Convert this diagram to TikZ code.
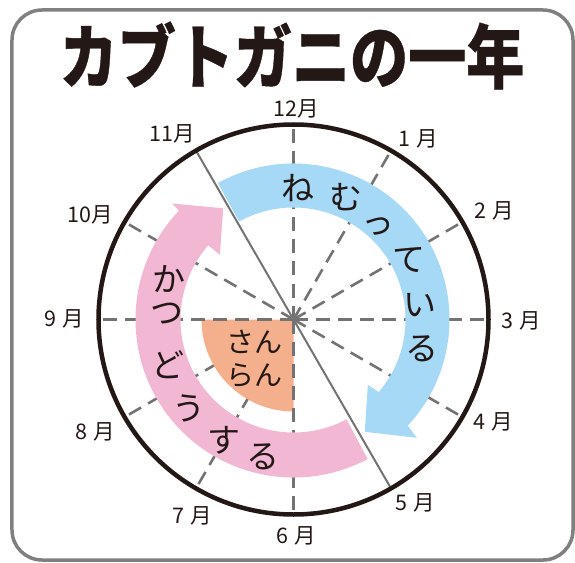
\documentclass[tikz,border=0pt]{standalone}
\usepackage{fontspec}
\newfontfamily\jp{Noto Sans CJK JP}
\newfontfamily\jptitle{Noto Sans CJK JP}[BoldFeatures={FakeBold=0.6}]
\definecolor{ink}{HTML}{231815}
\definecolor{framegray}{HTML}{808080}
\definecolor{linegray}{HTML}{737373}
\definecolor{sleepblue}{HTML}{A5D9F6}
\definecolor{actpink}{HTML}{F2B7D3}
\definecolor{spawnorange}{HTML}{F4B08C}
\tikzset{
  dashline/.style={draw=linegray, line width=2.6pt, dash pattern=on 14pt off 8pt},
  solidline/.style={draw=linegray, line width=2pt},
  monthlbl/.style={font=\jp\fontsize{21.5}{21.5}\selectfont, text=ink, inner sep=0pt},
  bandchar/.style={font=\jp\fontsize{33}{33}\selectfont, text=ink, inner sep=0pt},
}
\begin{document}
\begin{tikzpicture}[x=1pt,y=1pt]
\useasboundingbox (-293.5,-242.5) rectangle (281.5,319.5);
% frame
\draw[framegray, line width=3.5pt, rounded corners=30pt] (-281.5,-240.5) rectangle (279.5,309.5);
% title
\node[font=\jptitle\bfseries\fontsize{70}{70}\selectfont, text=ink, inner sep=0pt, xscale=0.83] (title) at (-1.5,264) {カブトガニの一年};
% dashed month lines
\foreach \a in {0,30,60,90,150,180,210,240,270,330}
  \draw[dashline] (0,0) -- (\a:195);
% spawning sector
\fill[spawnorange] (0,0) -- (180:92) arc[start angle=180, end angle=270, radius=92] -- cycle;
\draw[dashline] (0,0) -- (180:92);
\draw[dashline] (0,0) -- (270:92);
% sleeping band (blue arrow)
\fill[sleepblue] (119:156) arc[start angle=119, end angle=-42.9, radius=156]
  -- (-43.8:171) -- (-57.6:133) -- (-41.3:99) -- (-40.4:112)
  arc[start angle=-40.4, end angle=119, radius=112] -- cycle;
% active band (pink arrow)
\fill[actpink] (-62:158) arc[start angle=-62, end angle=-223.5, radius=158]
  -- (136.3:168) -- (122.3:131.5) -- (138.7:98) -- (139:113)
  arc[start angle=-221, end angle=-62, radius=113] -- cycle;
% solid line 11 - 5
\coordinate (p11) at (120:195);
\coordinate (p5) at (-60:195);
\draw[solidline] (p11) -- (p5);
% outer circle
\draw[ink, line width=4.5pt] (0,0) circle[radius=195];
% month labels
\node[monthlbl] (m12) at (2.5,210.5) {12月};
\node[monthlbl] (m1) at (124.5,180.5) {1\hspace{0.3em}月};
\node[monthlbl] (m2) at (200.5,108.5) {2\hspace{0.3em}月};
\node[monthlbl] (m3) at (227.5,-1.5) {3\hspace{0.3em}月};
\node[monthlbl] (m4) at (199.5,-102.5) {4\hspace{0.3em}月};
\node[monthlbl] (m5) at (121.5,-183.5) {5\hspace{0.3em}月};
\node[monthlbl] (m6) at (2.5,-216.5) {6\hspace{0.3em}月};
\node[monthlbl] (m7) at (-101.5,-196.5) {7\hspace{0.3em}月};
\node[monthlbl] (m8) at (-198.5,-112.5) {8\hspace{0.3em}月};
\node[monthlbl] (m9) at (-229.5,0.5) {9\hspace{0.3em}月};
\node[monthlbl] (m10) at (-203.5,104.5) {10月};
\node[monthlbl] (m11) at (-121.5,185.5) {11月};
% sleeping text
\node[bandchar] (s1) at (4.5,131.5) {ね};
\node[bandchar] (s2) at (52.5,122.5) {む};
\node[bandchar] (s3) at (84.5,92.5) {っ};
\node[bandchar] (s4) at (115.5,59.5) {て};
\node[bandchar] (s5) at (126.5,14.5) {い};
\node[bandchar] (s6) at (128.5,-29.5) {る};
% active text
\node[bandchar] (a1) at (-124.5,40.5) {か};
\node[bandchar] (a2) at (-126.5,5.5) {つ};
\node[bandchar] (a3) at (-125.5,-45.5) {ど};
\node[bandchar] (a4) at (-104.5,-88.5) {う};
\node[bandchar] (a5) at (-69.5,-120.5) {す};
\node[bandchar] (a6) at (-30.5,-137.5) {る};
% spawning text
\node[font=\jp\fontsize{28}{33}\selectfont, text=ink, inner sep=0pt, align=center] (spawn) at (-39,-39) {さん\\らん};
\end{tikzpicture}
\end{document}
